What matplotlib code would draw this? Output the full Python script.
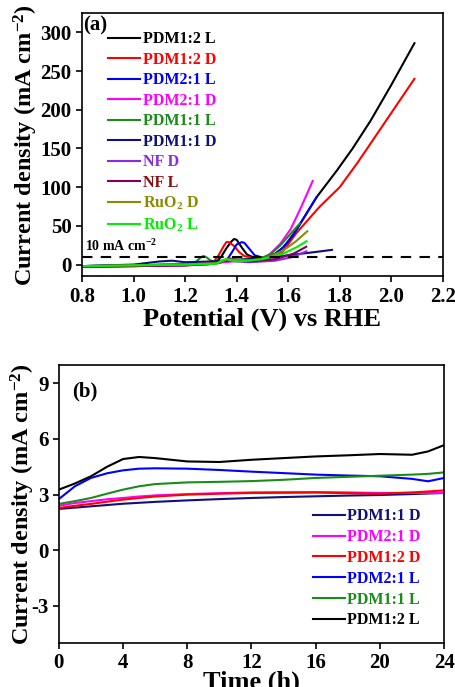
import numpy as np
import matplotlib
matplotlib.use('Agg')
import matplotlib.pyplot as plt

plt.rcParams['font.family'] = ['Liberation Serif', 'DejaVu Serif']
plt.rcParams['font.weight'] = 'bold'
plt.rcParams['mathtext.fontset'] = 'custom'
plt.rcParams['mathtext.rm'] = 'Liberation Serif:bold'
plt.rcParams['mathtext.default'] = 'rm'
plt.rcParams['axes.unicode_minus'] = False

# ---- panel (a): LSV curves, potential (V) vs current density ----
v_12L = [0.8, 1.0, 1.2, 1.30, 1.32, 1.34, 1.36, 1.38, 1.39, 1.40, 1.42, 1.44, 1.46, 1.48, 1.50, 1.52,
         1.55, 1.58, 1.60, 1.63, 1.66, 1.71, 1.79, 1.85, 1.92, 2.00, 2.09]
j_12L = [-2, -1.5, 0, 1, 3, 10, 21, 30, 33, 32, 22, 13, 10, 9, 9, 10,
         14, 22, 30, 44, 60, 87, 122, 150, 186, 232, 286]
v_12D = [0.8, 1.0, 1.2, 1.29, 1.31, 1.33, 1.35, 1.36, 1.37, 1.39, 1.41, 1.43, 1.46, 1.50, 1.52,
         1.55, 1.58, 1.63, 1.72, 1.80, 1.87, 1.98, 2.09]
j_12D = [-3, -2, -1, 0, 3, 12, 24, 29, 29, 24, 16, 11, 9, 8, 9,
         11, 17, 40, 74, 100, 132, 186, 240]
v_21L = [0.8, 1.0, 1.2, 1.33, 1.36, 1.38, 1.40, 1.42, 1.43, 1.45, 1.47, 1.50, 1.52, 1.55, 1.58,
         1.62, 1.66, 1.71]
j_21L = [-2, -1, 0, 2, 5, 15, 26, 29, 28, 20, 12, 9, 10, 14, 22, 38, 60, 87]
v_21D = [0.8, 1.0, 1.2, 1.35, 1.45, 1.50, 1.53, 1.57, 1.61, 1.65, 1.695]
j_21D = [-2, -1, 0, 3, 6, 8, 14, 27, 46, 74, 108]
v_11L = [0.8, 1.0, 1.2, 1.24, 1.26, 1.27, 1.28, 1.30, 1.32, 1.40, 1.50, 1.53, 1.57, 1.61, 1.645]
j_11L = [-2, -1, 1, 3, 9, 11, 10, 5, 4, 6, 9, 13, 25, 40, 53]
v_11D = [0.8, 1.0, 1.05, 1.10, 1.15, 1.20, 1.30, 1.40, 1.50, 1.60, 1.70, 1.77]
j_11D = [-2, 0, 2, 4, 5, 3, 4, 6, 8, 12, 16, 19]
v_NFD = [0.8, 1.0, 1.2, 1.33, 1.36, 1.40, 1.45, 1.55, 1.62, 1.67]
j_NFD = [-3, -2, -1, 2, 6, 4, 3, 5, 10, 17]
v_NFL = [0.8, 1.0, 1.2, 1.33, 1.37, 1.41, 1.45, 1.55, 1.62, 1.67]
j_NFL = [-3, -2, -1, 2, 8, 6, 4, 7, 14, 23]
v_RuD = [0.8, 1.0, 1.2, 1.33, 1.36, 1.40, 1.45, 1.52, 1.58, 1.63, 1.674]
j_RuD = [-2, -1, 0, 2, 7, 6, 5, 9, 18, 30, 43]
v_RuL = [0.8, 1.0, 1.2, 1.32, 1.34, 1.36, 1.40, 1.50, 1.58, 1.63, 1.671]
j_RuL = [-2, -1, 0, 1, 5, 7, 4, 7, 14, 22, 30]

lsv_labels = ['PDM1:2 L', 'PDM1:2 D', 'PDM2:1 L', 'PDM2:1 D', 'PDM1:1 L',
              'PDM1:1 D', 'NF D', 'NF L', 'RuO$_2$ D', 'RuO$_2$ L']
lsv_colors = ['black', 'red', '#0000ff', '#ff00ff', '#1a8c1a',
              '#10107a', '#8a2be2', '#800060', '#8b8b00', '#00ee00']
lsv_text_colors = ['black', 'red', '#0000ff', '#ff00ff', '#1a8c1a',
                   '#10107a', '#8a2be2', '#8b1010', '#8b8b00', '#00ee00']
lsv_v = [v_12L, v_12D, v_21L, v_21D, v_11L, v_11D, v_NFD, v_NFL, v_RuD, v_RuL]
lsv_j = [j_12L, j_12D, j_21L, j_21D, j_11L, j_11D, j_NFD, j_NFL, j_RuD, j_RuL]

# ---- panel (b): chronoamperometry ----
t_h = [0, 1, 2, 3, 4, 5, 6, 8, 10, 12, 14, 16, 18, 20, 22, 23, 24]
j_b_12L = [3.27, 3.6, 3.99, 4.5, 4.92, 5.03, 4.97, 4.79, 4.76, 4.88, 4.97, 5.06, 5.12, 5.19, 5.15, 5.33, 5.67]
j_b_21L = [2.76, 3.45, 3.9, 4.15, 4.31, 4.4, 4.42, 4.40, 4.33, 4.24, 4.16, 4.08, 4.03, 3.99, 3.85, 3.72, 3.9]
j_b_11L = [2.5, 2.65, 2.82, 3.05, 3.27, 3.45, 3.57, 3.66, 3.69, 3.73, 3.8, 3.9, 3.96, 4.02, 4.08, 4.12, 4.2]
j_b_21D = [2.4, 2.55, 2.65, 2.75, 2.82, 2.9, 2.96, 3.03, 3.08, 3.12, 3.13, 3.14, 3.12, 3.09, 3.09, 3.09, 3.09]
j_b_12D = [2.28, 2.4, 2.5, 2.62, 2.73, 2.82, 2.9, 3.0, 3.05, 3.09, 3.1, 3.11, 3.08, 3.05, 3.12, 3.17, 3.23]
j_b_11D = [2.23, 2.3, 2.37, 2.44, 2.51, 2.56, 2.61, 2.69, 2.76, 2.82, 2.87, 2.91, 2.95, 2.98, 3.03, 3.06, 3.09]

ca_labels = ['PDM1:1 D', 'PDM2:1 D', 'PDM1:2 D', 'PDM2:1 L', 'PDM1:1 L', 'PDM1:2 L']
ca_colors = ['#10107a', '#ff00ff', 'red', '#0000ff', '#1a8c1a', 'black']
ca_j = [j_b_11D, j_b_21D, j_b_12D, j_b_21L, j_b_11L, j_b_12L]

fig = plt.figure(figsize=(4.56, 6.87), dpi=100)

ax1 = fig.add_axes([0.180, 0.598, 0.791, 0.383])
for v, j, c, lab in zip(lsv_v, lsv_j, lsv_colors, lsv_labels):
    ax1.plot(v, j, color=c, lw=1.5, label=lab)
ax1.axhline(10, color='black', ls=(0, (5, 4)), lw=1.5)
ax1.text(0.81, 17, '10 mA cm$^{-2}$', fontsize=10, fontweight='bold')
ax1.text(0.805, 303, '(a)', fontsize=15, fontweight='bold')
ax1.set_xlim(0.8, 2.2)
ax1.set_ylim(-15, 325)
ax1.set_xticks(np.arange(0.8, 2.21, 0.2))
ax1.set_yticks(np.arange(0, 301, 50))
ax1.set_xticklabels(['%.1f' % x for x in np.arange(0.8, 2.21, 0.2)])
ax1.tick_params(labelsize=15, width=1.2, length=4)
ax1.set_xlabel('Potential (V) vs RHE', fontsize=19, fontweight='bold', labelpad=1)
ax1.set_ylabel('Current density (mA cm$^{-2}$)', fontsize=17.5, fontweight='bold', labelpad=0)
leg1 = ax1.legend(loc='upper left', bbox_to_anchor=(0.055, 0.955), frameon=False,
                  fontsize=11.5, handlelength=2.0, handletextpad=0.15,
                  labelspacing=0.28, borderaxespad=0)
for txt, c in zip(leg1.get_texts(), lsv_text_colors):
    txt.set_color(c)

ax2 = fig.add_axes([0.129, 0.064, 0.845, 0.405])
for j, c, lab in zip(ca_j, ca_colors, ca_labels):
    ax2.plot(t_h, j, color=c, lw=1.5, label=lab)
ax2.text(0.8, 8.3, '(b)', fontsize=15, fontweight='bold')
ax2.set_xlim(0, 24)
ax2.set_ylim(-5, 10)
ax2.set_xticks(np.arange(0, 25, 4))
ax2.set_yticks([-3, 0, 3, 6, 9])
ax2.tick_params(labelsize=15, width=1.2, length=4)
ax2.set_xlabel('Time (h)', fontsize=19, fontweight='bold', labelpad=-2)
ax2.set_ylabel('Current density (mA cm$^{-2}$)', fontsize=17.5, fontweight='bold', labelpad=-4)
leg2 = ax2.legend(loc='lower right', bbox_to_anchor=(0.955, 0.03), frameon=False,
                  fontsize=11.5, handlelength=2.0, handletextpad=0.15,
                  labelspacing=0.3, borderaxespad=0)
for txt, c in zip(leg2.get_texts(), ca_colors):
    txt.set_color(c)

for ax in (ax1, ax2):
    for s in ax.spines.values():
        s.set_linewidth(1.2)

fig.savefig('out.png', dpi=100)
